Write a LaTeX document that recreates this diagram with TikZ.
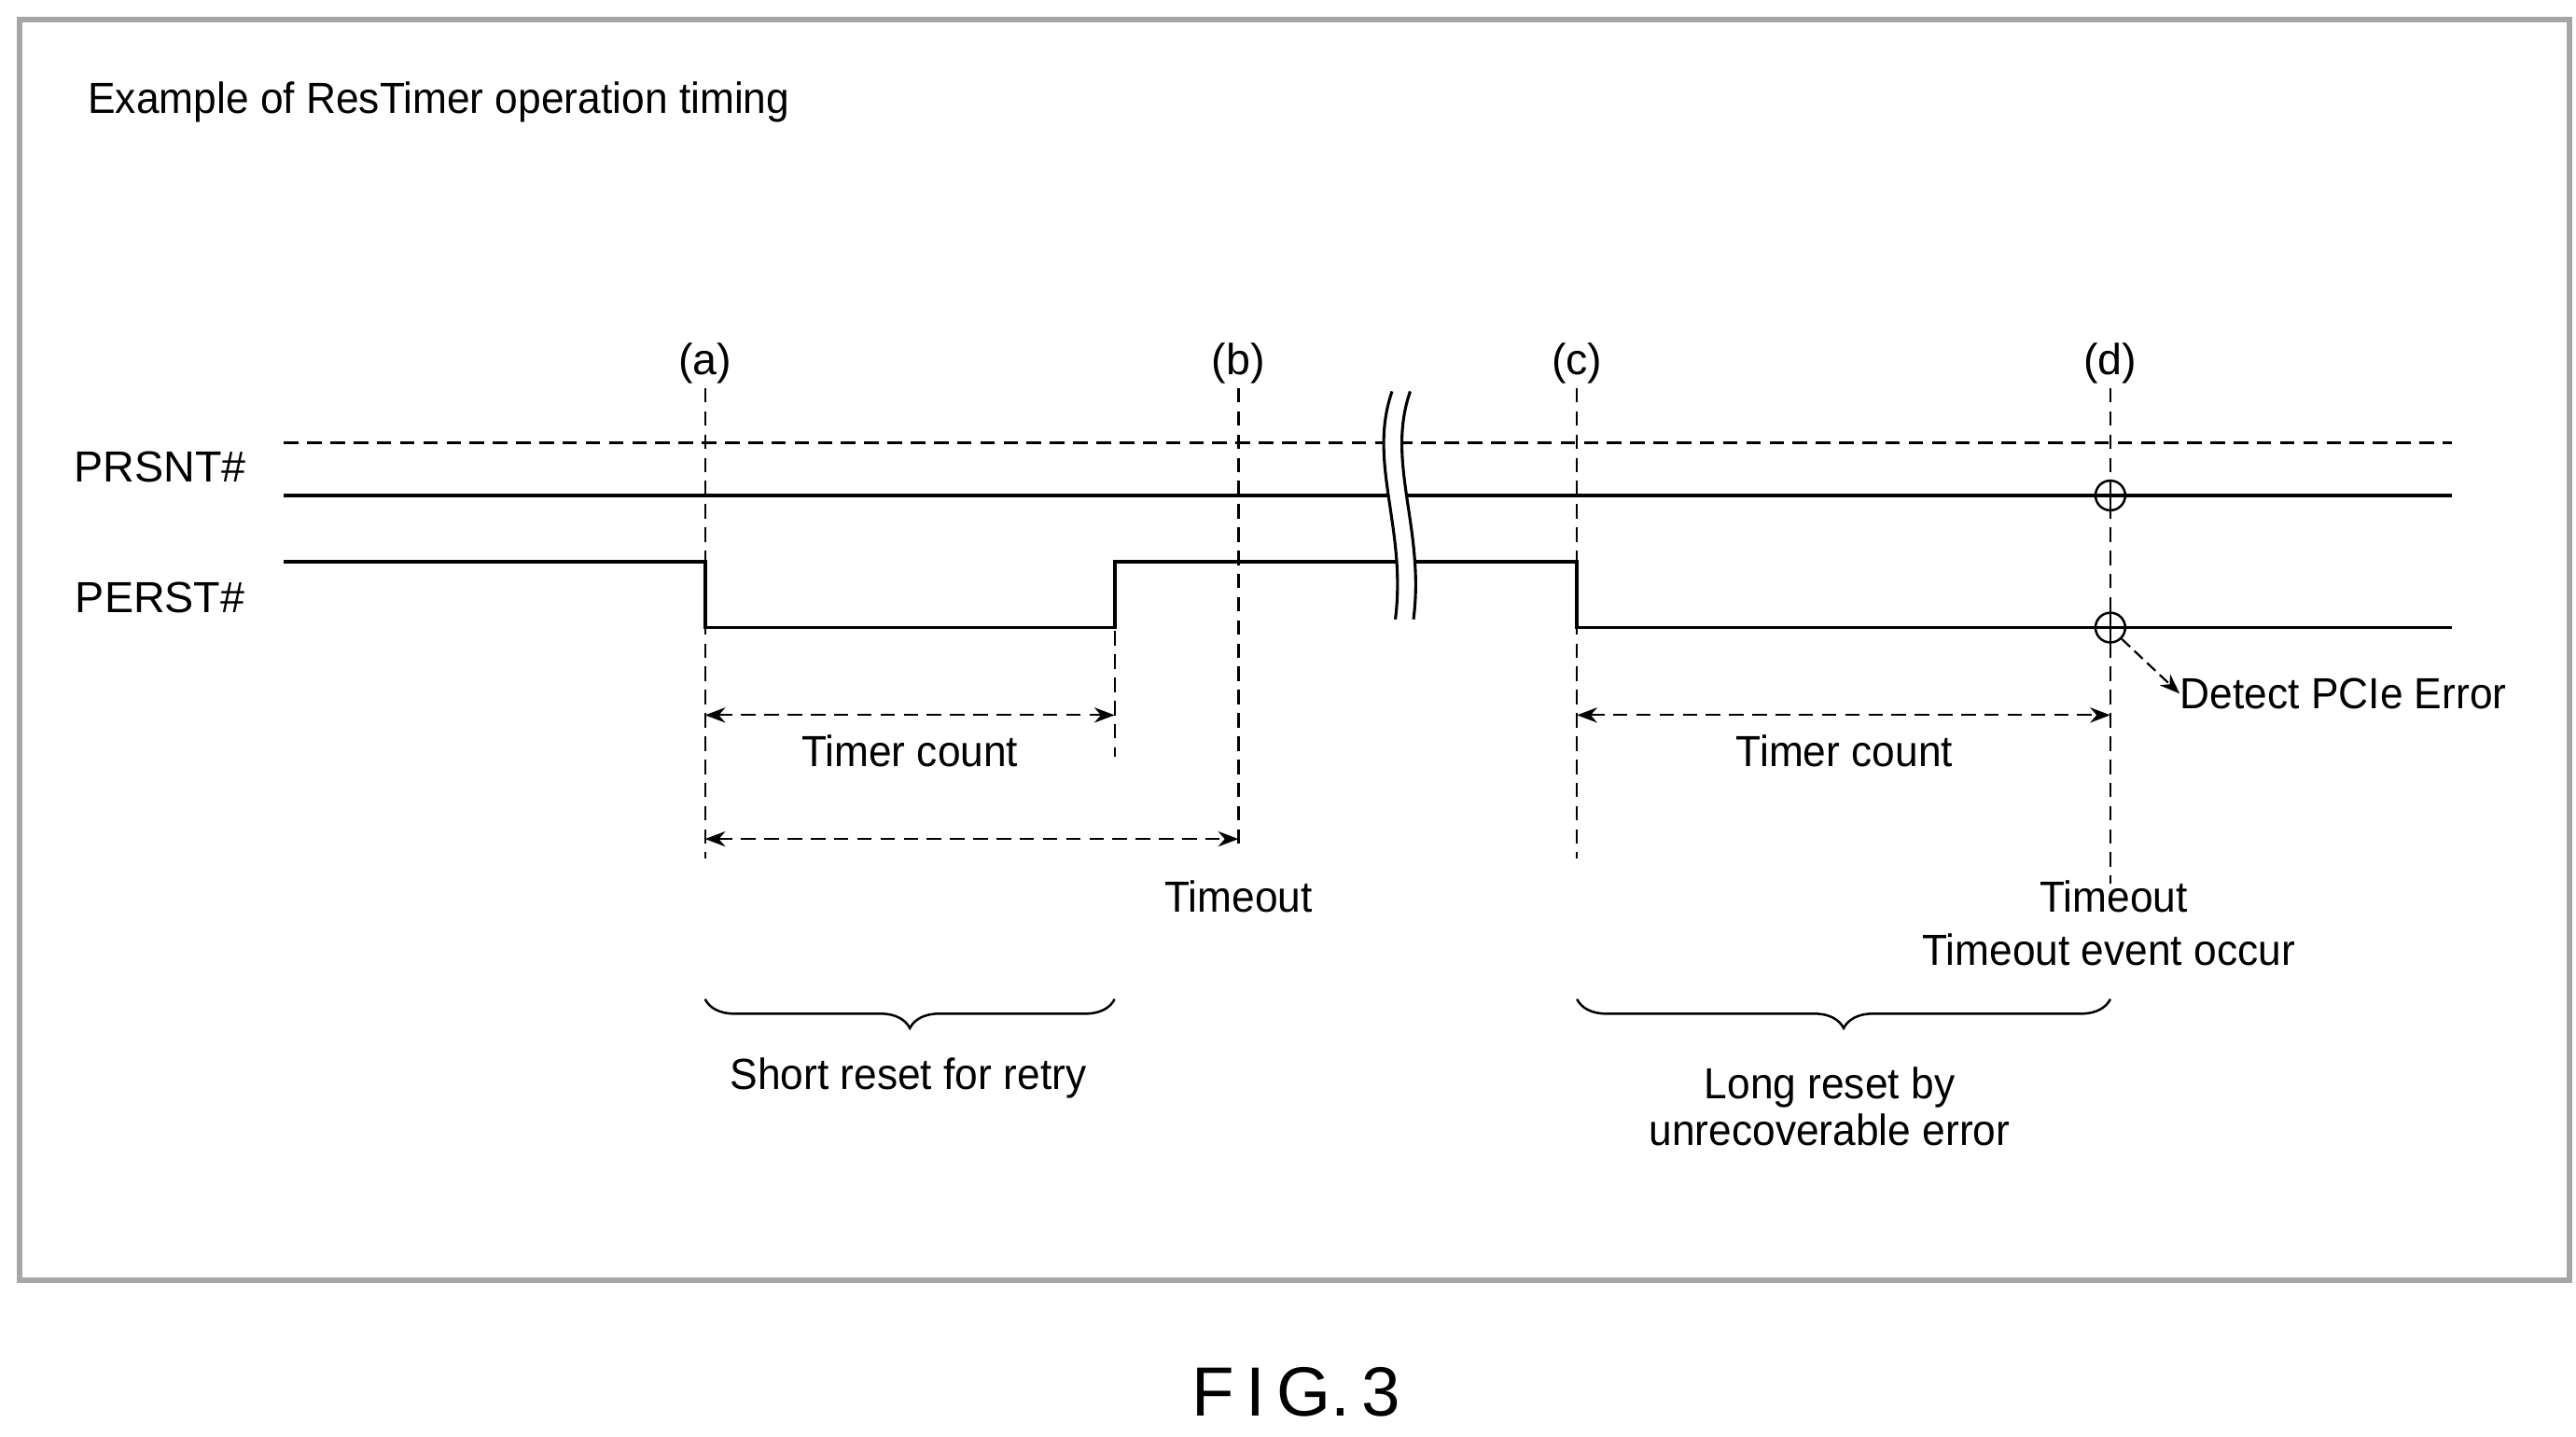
\documentclass[tikz,border=0pt]{standalone}
\usepackage{fontspec}
\setmainfont{Liberation Sans}
\usetikzlibrary{decorations.pathreplacing,arrows.meta}
\begin{document}
\begin{tikzpicture}[x=0.02cm,y=-0.02cm,
  txt/.style={font=\fontsize{15}{18}\selectfont,inner sep=0pt},
  sig/.style={line width=1.2pt},
  vd/.style={dash pattern=on 5pt off 3pt,line width=0.7pt},
  dar/.style={dash pattern=on 5pt off 3pt,line width=0.7pt,{Stealth[length=7pt]}-{Stealth[length=7pt]}},
  brc/.style={decorate,decoration={brace,mirror,amplitude=10pt},line width=0.8pt}]
\useasboundingbox (0,0) rectangle (1560,870);
\draw[gray!70,line width=2pt] (12,12) rectangle (1556,775);
\node[txt,anchor=west,xscale=0.95] (title) at (53,62) {Example of ResTimer operation timing};
\node[txt] (la) at (427,220) {(a)};
\node[txt] (lb) at (750,220) {(b)};
\node[txt] (lc) at (955,220) {(c)};
\node[txt] (ld) at (1278,220) {(d)};
\node[txt] (prsnt) at (97,283) {PRSNT\#};
\node[txt] (perst) at (97,362) {PERST\#};
% signals
\coordinate (ds) at (172,268); \coordinate (de) at (1485,268);
\draw[vd,line width=1pt] (ds) -- (de);
\coordinate (ps) at (172,300); \coordinate (pe) at (1485,300);
\draw[sig] (ps) -- (pe);
\coordinate (r0) at (172,340); \coordinate (r1) at (427,340); \coordinate (r2) at (427,380);
\coordinate (r3) at (675,380); \coordinate (r4) at (675,340); \coordinate (r5) at (955,340);
\coordinate (r6) at (955,380); \coordinate (r7) at (1485,380);
\draw[sig] (r0)--(r1)--(r2)--(r3)--(r4)--(r5)--(r6)--(r7);
% break
\fill[white] (843,237) .. controls (828,280) and (852,320) .. (845,375) -- (856,375) .. controls (863,320) and (839,280) .. (854,237) -- cycle;
\draw[line width=1pt] (843,237) .. controls (828,280) and (852,320) .. (845,375);
\draw[line width=1pt] (854,237) .. controls (839,280) and (863,320) .. (856,375);
% verticals
\coordinate (va1) at (427,235); \coordinate (va2) at (427,520);
\coordinate (vb1) at (750,235); \coordinate (vb2) at (750,515);
\coordinate (vc1) at (955,235); \coordinate (vc2) at (955,520);
\coordinate (vd1) at (1278,235); \coordinate (vd2) at (1278,535);
\coordinate (ve1) at (675,340); \coordinate (ve2) at (675,458);
\draw[vd] (va1)--(va2); \draw[vd] (vb1)--(vb2); \draw[vd] (vc1)--(vc2);
\draw[vd] (vd1)--(vd2); \draw[vd] (ve1)--(ve2);
% arrows
\coordinate (a1) at (427,433); \coordinate (a2) at (675,433);
\coordinate (b1) at (427,508); \coordinate (b2) at (750,508);
\coordinate (c1) at (955,433); \coordinate (c2) at (1278,433);
\draw[dar] (a1)--(a2); \draw[dar] (b1)--(b2); \draw[dar] (c1)--(c2);
\node[txt,xscale=0.95] (tc1) at (551,455) {Timer count};
\node[txt,xscale=0.95] (tc2) at (1117,455) {Timer count};
\node[txt,xscale=0.95] (to1) at (750,543) {Timeout};
\node[txt,xscale=0.95] (to2) at (1280,543) {Timeout};
\node[txt,xscale=0.95] (toe) at (1277,575) {Timeout event occur};
% circles
\foreach \n/\y in {k1/300,k2/380}{
  \node[draw,circle,minimum size=0.36cm,inner sep=0pt,line width=0.8pt] (\n) at (1278,\y) {};
  \draw[line width=0.8pt] (\n.north)--(\n.south) (\n.west)--(\n.east);}
\node[txt,anchor=west,xscale=0.95] (det) at (1320,420) {Detect PCIe Error};
\draw[dash pattern=on 4pt off 2pt,line width=0.7pt,-{Stealth[length=7pt]}] (k2.south east) -- (det.west);
% braces
\coordinate (s1) at (427,605); \coordinate (s2) at (675,605);
\coordinate (l1) at (955,605); \coordinate (l2) at (1278,605);
\draw[brc] (s1)--(s2); \draw[brc] (l1)--(l2);
\node[txt,xscale=0.95] (sr) at (550,653) {Short reset for retry};
\node[txt,align=center,font=\fontsize{15}{16}\selectfont,xscale=0.95] (lr) at (1108,670) {Long reset by\\unrecoverable error};
\node[txt,font=\fontsize{24}{28}\selectfont] (fig) at (785,843) {F\,I\,G.\,3};
\end{tikzpicture}
\end{document}
